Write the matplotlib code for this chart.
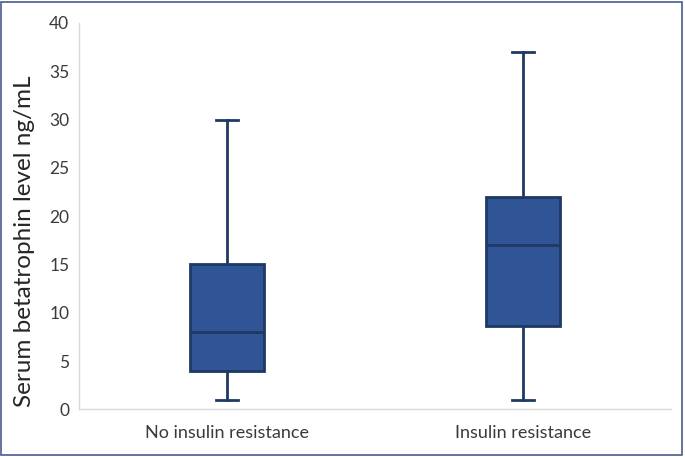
import matplotlib.pyplot as plt
from matplotlib.patches import Rectangle

# Значения
groups = ['No insulin resistance', 'Insulin resistance']
whisker_low = [1, 1]
q1 = [4, 8.6]
median = [8, 17]
q3 = [15.1, 22]
whisker_high = [30, 37]

fill_color = '#2F5597'
edge_color = '#1F3864'

plt.rcParams['font.family'] = ['Lato', 'DejaVu Sans']

fig = plt.figure(figsize=(6.85, 4.57), dpi=100)
ax = fig.add_axes([0.1153, 0.104, 0.8643, 0.8457])

stats = []
for i, name in enumerate(groups):
    stats.append({
        'label': name,
        'whislo': whisker_low[i],
        'q1': q1[i],
        'med': median[i],
        'q3': q3[i],
        'whishi': whisker_high[i],
        'fliers': [],
    })

ax.bxp(
    stats,
    positions=range(len(groups)),
    widths=0.25,
    patch_artist=True,
    showfliers=False,
    boxprops=dict(facecolor=fill_color, edgecolor=edge_color, linewidth=2),
    medianprops=dict(color=edge_color, linewidth=2),
    whiskerprops=dict(color=edge_color, linewidth=2),
    capprops=dict(color=edge_color, linewidth=2),
    capwidths=0.075,
)

ax.set_xlim(-0.5, 1.5)
ax.set_ylim(0, 40)
ax.set_yticks(range(0, 41, 5))
ax.set_xticks(range(len(groups)))
ax.set_xticklabels(groups)
ax.tick_params(length=0, labelsize=12.5, colors='#3A3A3A', pad=7)
ax.tick_params(axis='x', labelsize=13, pad=11)
ax.set_ylabel('Serum betatrophin level ng/mL', fontsize=17.5, color='#262626')
ax.yaxis.set_label_coords(-0.074, 0.435)

for side in ['top', 'right']:
    ax.spines[side].set_visible(False)
for side in ['left', 'bottom']:
    ax.spines[side].set_color('#D9D9D9')
    ax.spines[side].set_linewidth(1)

# рамка вокруг всего рисунка
fig.patches.append(Rectangle((0.002, 0.004), 0.993, 0.992, transform=fig.transFigure,
                             fill=False, edgecolor='#4A5C8F', linewidth=1.2))

fig.savefig('out.png', dpi=100)
